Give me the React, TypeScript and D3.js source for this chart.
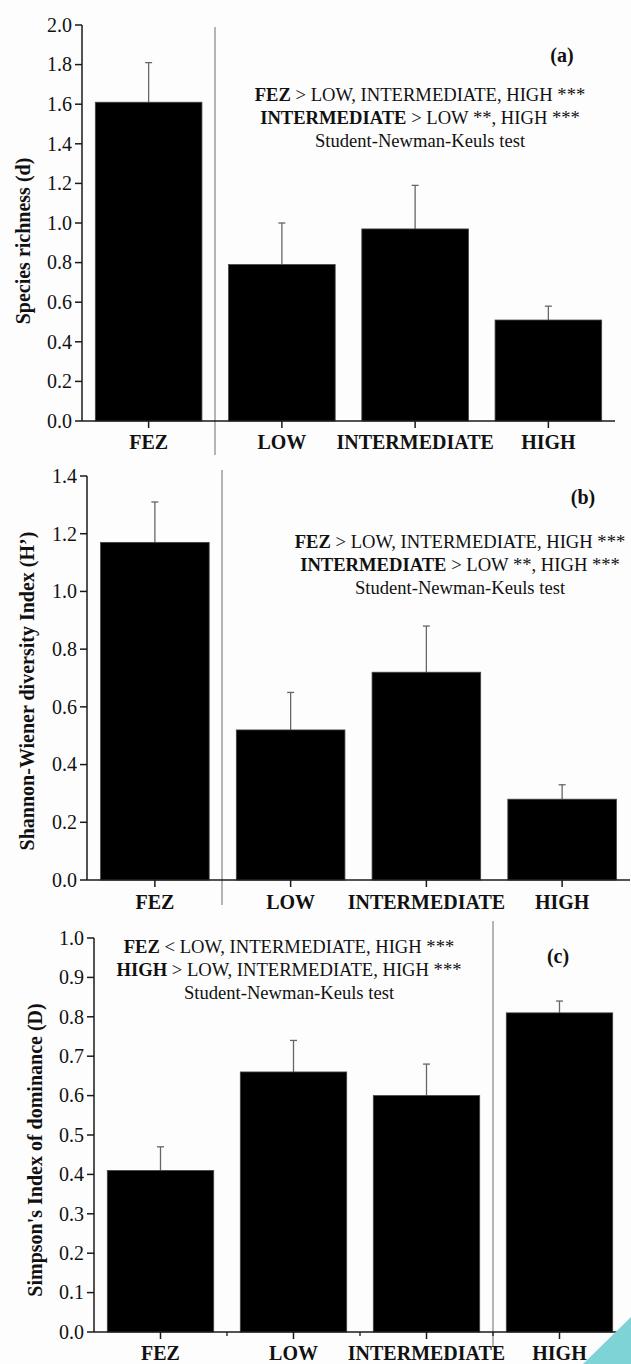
import React from "react";
import * as d3 from "d3";

const categories = ["FEZ", "LOW", "INTERMEDIATE", "HIGH"];

const richnessMean = [1.61, 0.79, 0.97, 0.51];
const richnessUpper = [1.81, 1.0, 1.19, 0.58];
const richnessTicks = [0, 0.2, 0.4, 0.6, 0.8, 1.0, 1.2, 1.4, 1.6, 1.8, 2.0];
const richnessTitle = "Species richness (d)";
const richnessNotes: [string, string][] = [
  ["FEZ", " > LOW, INTERMEDIATE, HIGH ***"],
  ["INTERMEDIATE", " > LOW **, HIGH ***"],
  ["", "Student-Newman-Keuls test"],
];

const shannonMean = [1.17, 0.52, 0.72, 0.28];
const shannonUpper = [1.31, 0.65, 0.88, 0.33];
const shannonTicks = [0, 0.2, 0.4, 0.6, 0.8, 1.0, 1.2, 1.4];
const shannonTitle = "Shannon-Wiener diversity Index (H\u2019)";
const shannonNotes: [string, string][] = [
  ["FEZ", " > LOW, INTERMEDIATE, HIGH ***"],
  ["INTERMEDIATE", " > LOW **, HIGH ***"],
  ["", "Student-Newman-Keuls test"],
];

const simpsonMean = [0.41, 0.66, 0.6, 0.81];
const simpsonUpper = [0.47, 0.74, 0.68, 0.84];
const simpsonTicks = [0, 0.1, 0.2, 0.3, 0.4, 0.5, 0.6, 0.7, 0.8, 0.9, 1.0];
const simpsonTitle = "Simpson's Index of dominance (D)";
const simpsonNotes: [string, string][] = [
  ["FEZ", " < LOW, INTERMEDIATE, HIGH ***"],
  ["HIGH", " > LOW, INTERMEDIATE, HIGH ***"],
  ["", "Student-Newman-Keuls test"],
];

const FONT = "'Liberation Serif', 'Times New Roman', serif";

type PanelProps = {
  mean: number[];
  upper: number[];
  ticks: number[];
  title: string;
  notes: [string, string][];
  tag: string;
  left: number;
  right: number;
  top: number;
  bottom: number;
  titleX: number;
  titleY: number;
  catBaseline: number;
  sepX: number;
  sepY0: number;
  sepY1: number;
  tagX: number;
  tagY: number;
  noteX: number;
  noteY: number;
  minorTicks?: boolean;
};

function Panel(p: PanelProps) {
  const x = d3.scaleBand<string>().domain(categories).range([p.left, p.right]).paddingInner(0.2).paddingOuter(0.1);
  const xc = d3.scaleBand<string>().domain(categories).range([p.left, p.right]);
  const y = d3.scaleLinear().domain([0, p.ticks[p.ticks.length - 1]]).range([p.bottom, p.top]);
  const fmt = d3.format(".1f");
  const axisColor = "#1a1a1a";
  return (
    <g>
      <line x1={p.sepX} x2={p.sepX} y1={p.sepY0} y2={p.sepY1} stroke="#b5b5b5" strokeWidth={2} />
      {categories.map((c, i) => (
        <g key={c}>
          <line
            x1={xc(c)! + xc.bandwidth() / 2}
            x2={xc(c)! + xc.bandwidth() / 2}
            y1={y(p.mean[i])}
            y2={y(p.upper[i])}
            stroke="#666"
            strokeWidth={1.3}
          />
          <line
            x1={xc(c)! + xc.bandwidth() / 2 - 3.5}
            x2={xc(c)! + xc.bandwidth() / 2 + 3.5}
            y1={y(p.upper[i])}
            y2={y(p.upper[i])}
            stroke="#666"
            strokeWidth={1.3}
          />
          <rect
            x={x(c)}
            y={y(p.mean[i])}
            width={x.bandwidth()}
            height={y(0) - y(p.mean[i])}
            fill="#000"
            stroke="#444"
            strokeWidth={0.8}
          />
        </g>
      ))}
      <line x1={p.left} x2={p.left} y1={p.top} y2={p.bottom} stroke={axisColor} strokeWidth={1.5} />
      {p.ticks.map((t) => (
        <g key={t}>
          <line x1={p.left - 7} x2={p.left} y1={y(t)} y2={y(t)} stroke={axisColor} strokeWidth={1.5} />
          <text
            x={p.left - 10}
            y={y(t)}
            dy="0.34em"
            textAnchor="end"
            fontFamily={FONT}
            fontSize={20}
            fill="#111"
          >
            {fmt(t)}
          </text>
        </g>
      ))}
      <line x1={p.left} x2={p.right} y1={p.bottom} y2={p.bottom} stroke={axisColor} strokeWidth={1.5} />
      {categories.map((c) => (
        <g key={c}>
          <line
            x1={xc(c)! + xc.bandwidth() / 2}
            x2={xc(c)! + xc.bandwidth() / 2}
            y1={p.bottom}
            y2={p.bottom + 7}
            stroke={axisColor}
            strokeWidth={1.5}
          />
          <text
            x={xc(c)! + xc.bandwidth() / 2}
            y={p.catBaseline}
            textAnchor="middle"
            fontFamily={FONT}
            fontWeight="bold"
            fontSize={20}
            fill="#111"
          >
            {c}
          </text>
        </g>
      ))}
      {p.minorTicks &&
        categories.slice(1).concat(["__end"]).map((c, i) => {
          const px = c === "__end" ? p.right : xc(c)!;
          return (
            <line key={"m" + i} x1={px} x2={px} y1={p.bottom} y2={p.bottom + 4} stroke={axisColor} strokeWidth={1.3} />
          );
        })}
      <text
        transform={`translate(${p.titleX},${p.titleY}) rotate(-90)`}
        textAnchor="middle"
        dy="0.35em"
        fontFamily={FONT}
        fontWeight="bold"
        fontSize={20}
        fill="#111"
      >
        {p.title}
      </text>
      <text x={p.tagX} y={p.tagY} textAnchor="middle" fontFamily={FONT} fontWeight="bold" fontSize={20} fill="#111">
        {p.tag}
      </text>
      {p.notes.map((n, i) => (
        <text
          key={i}
          x={p.noteX}
          y={p.noteY + i * 23}
          textAnchor="middle"
          fontFamily={FONT}
          fontSize={18.6}
          fill="#111"
        >
          {n[0] && <tspan fontWeight="bold">{n[0]}</tspan>}
          <tspan>{n[1]}</tspan>
        </text>
      ))}
    </g>
  );
}

export default function App() {
  const W = 631;
  const H = 1364;
  return (
    <svg
      width={W}
      height={H}
      style={{ position: "absolute", left: 0, top: 0, background: "#fdfdfd" }}
    >
      <rect width={W} height={H} fill="#fdfdfd" />
      <Panel
        mean={richnessMean}
        upper={richnessUpper}
        ticks={richnessTicks}
        title={richnessTitle}
        notes={richnessNotes}
        tag="(a)"
        left={82}
        right={615}
        top={25}
        bottom={421}
        titleX={23}
        titleY={241}
        catBaseline={449}
        sepX={215}
        sepY0={27}
        sepY1={455}
        tagX={562}
        tagY={62}
        noteX={420}
        noteY={101}
      />
      <Panel
        mean={shannonMean}
        upper={shannonUpper}
        ticks={shannonTicks}
        title={shannonTitle}
        notes={shannonNotes}
        tag="(b)"
        left={87}
        right={630}
        top={476}
        bottom={880}
        titleX={27}
        titleY={691}
        catBaseline={909}
        sepX={222}
        sepY0={470}
        sepY1={905}
        tagX={583}
        tagY={504}
        noteX={460}
        noteY={548}
      />
      <Panel
        mean={simpsonMean}
        upper={simpsonUpper}
        ticks={simpsonTicks}
        title={simpsonTitle}
        notes={simpsonNotes}
        tag="(c)"
        left={94}
        right={626}
        top={938}
        bottom={1332}
        titleX={35}
        titleY={1150}
        catBaseline={1360}
        sepX={493}
        sepY0={921}
        sepY1={1347}
        tagX={558}
        tagY={963}
        noteX={289}
        noteY={953}
        minorTicks
      />
      <polygon points={`${W - 48},${H} ${W},${H} ${W},${H - 47}`} fill="#7dd3d6" />
    </svg>
  );
}
